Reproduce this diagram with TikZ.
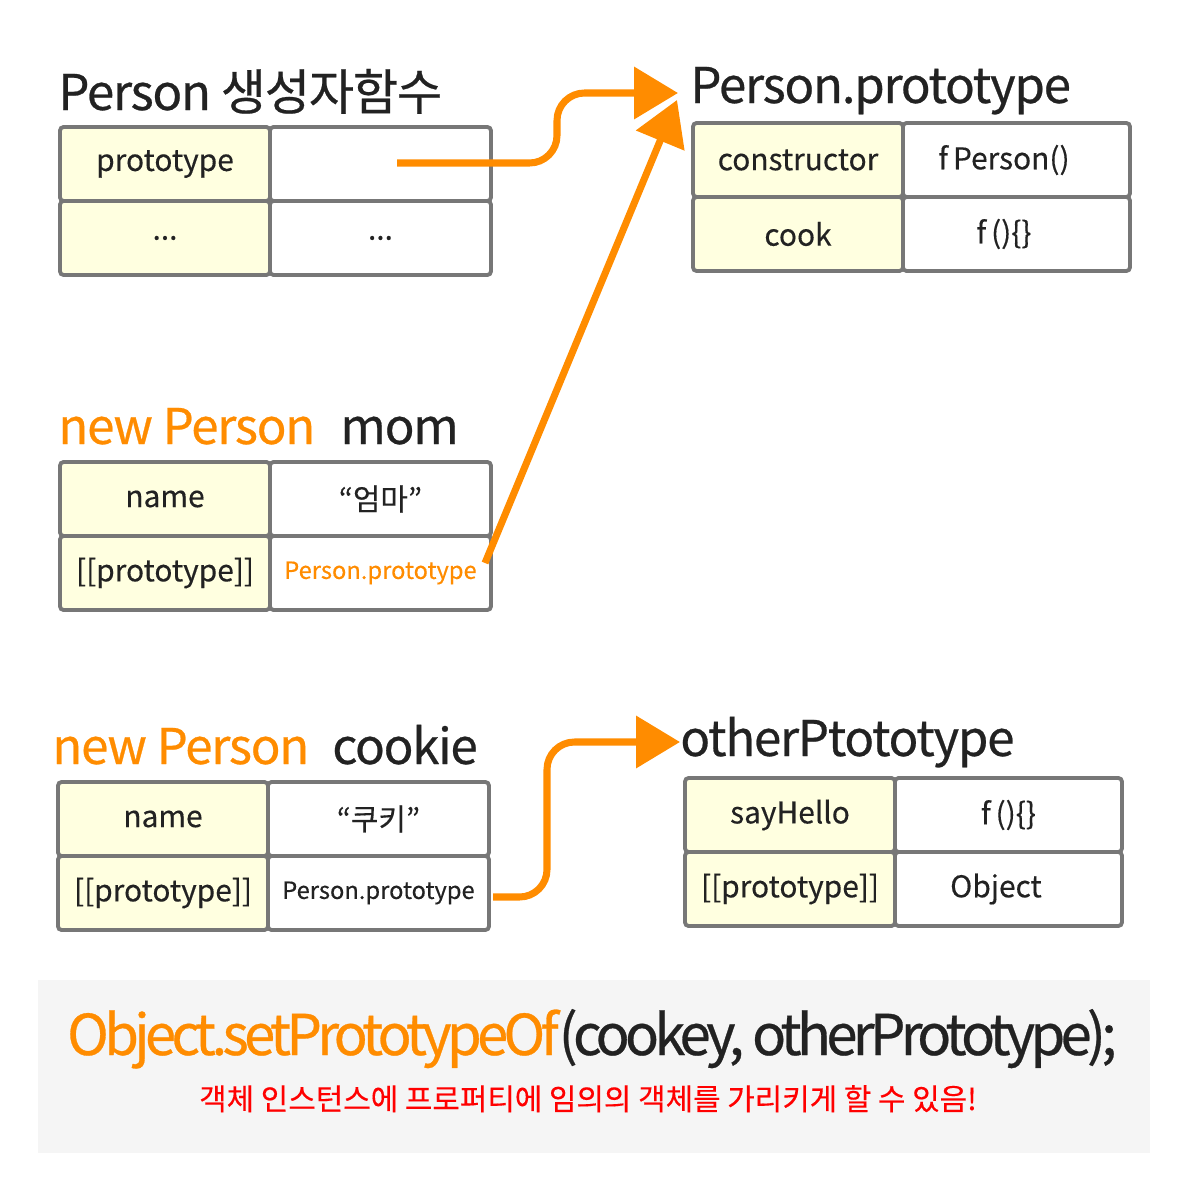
\documentclass[tikz,border=0pt]{standalone}
\usepackage{fontspec}
\setmainfont{Noto Sans CJK KR}[FakeBold=0.3]
\newfontfamily\ttlfont{Noto Sans CJK KR}[LetterSpace=-2.5, FakeBold=0.5]
\newfontfamily\codefont{Noto Sans CJK KR}[LetterSpace=-8.4, FakeBold=0.5]
\usepackage{xcolor}
\usetikzlibrary{arrows.meta,positioning}
\definecolor{cellline}{HTML}{777777}
\definecolor{keyfill}{HTML}{FFFFE0}
\definecolor{arrorange}{HTML}{FF8C00}
\definecolor{inktext}{HTML}{222222}
\definecolor{panelgray}{HTML}{F5F5F5}
\definecolor{notered}{HTML}{FF0000}

\begin{document}
\begin{tikzpicture}[x=0.02cm, y=-0.02cm,
    cell/.style={draw=cellline, line width=2.2pt, rounded corners=2pt, minimum height=1.48cm,
                 outer sep=0pt, inner sep=0pt, text=inktext, font=\fontsize{17}{20}\selectfont},
    keycell/.style={cell, fill=keyfill, minimum width=4.2cm},
    valcell/.style={cell, fill=white, minimum width=4.42cm},
    widecell/.style={valcell, minimum width=4.54cm},
    leftcell/.style={widecell, text width=4.54cm, align=center},
    smalltxt/.style={font=\fontsize{13.5}{16}\selectfont},
    ttl/.style={anchor=base west, inner sep=0pt, text=inktext, font=\ttlfont\fontsize{28}{32}\selectfont},
    arr/.style={-{Triangle[length=25pt,width=29pt]}, line width=4pt, draw=arrorange,
                rounded corners=0.55cm}]

    \useasboundingbox (0,0) rectangle (1200,1200);

    % === Person constructor ===
    \node[ttl] (ctorT) at (58,110) {Person 생성자함수};
    \node[keycell] (ctorK1) at (165,164) {prototype};
    \node[keycell, below=0pt of ctorK1] (ctorK2) {...};
    \node[valcell, right=0pt of ctorK1] (ctorV1) {};
    \node[valcell, right=0pt of ctorK2] (ctorV2) {...};

    % === Person.prototype ===
    \node[ttl] (protoT) at (690,103) {Person.prototype};
    \node[keycell] (protoK1) at (798,160) {constructor};
    \node[keycell, below=0pt of protoK1] (protoK2) {cook};
    \node[leftcell, right=0pt of protoK1] (protoV1) {f\,Person()\hspace*{0.5cm}};
    \node[leftcell, right=0pt of protoK2] (protoV2) {f\,()\{\}\hspace*{0.5cm}};

    % === mom ===
    \node[ttl, text=arrorange] (momT) at (58,444) {new Person};
    \node[ttl] (momN) at (340,444) {mom};
    \node[keycell] (momK1) at (165,499) {name};
    \node[keycell, below=0pt of momK1] (momK2) {[[prototype]]};
    \node[valcell, right=0pt of momK1] (momV1) {“엄마”};
    \node[valcell, right=0pt of momK2, smalltxt, text=arrorange] (momV2) {Person.prototype};

    % === cookie ===
    \node[ttl, text=arrorange] (ckT) at (52,764) {new Person};
    \node[ttl] (ckN) at (332,764) {cookie};
    \node[keycell] (ckK1) at (163,819) {name};
    \node[keycell, below=0pt of ckK1] (ckK2) {[[prototype]]};
    \node[valcell, right=0pt of ckK1] (ckV1) {“쿠키”};
    \node[valcell, right=0pt of ckK2, smalltxt] (ckV2) {Person.prototype};

    % === otherPtototype ===
    \node[ttl] (otherT) at (680,756) {otherPtototype};
    \node[keycell] (otherK1) at (790,815) {sayHello};
    \node[keycell, below=0pt of otherK1] (otherK2) {[[prototype]]};
    \node[widecell, right=0pt of otherK1] (otherV1) {f\,()\{\}};
    \node[leftcell, right=0pt of otherK2] (otherV2) {Object\hspace*{0.5cm}};

    % === arrows ===
    \coordinate (ctorOut) at (397,163);
    \coordinate (protoIn) at (678,93);
    \coordinate (momOut)  at (485,563);
    \coordinate (protoIn2) at (677,100);
    \coordinate (ckOut)   at (493,897);
    \coordinate (otherIn) at (680,742);
    \draw[arr] (ctorOut) -| (557,93) -- (protoIn);
    \draw[arr] (momOut) -- (protoIn2);
    \draw[arr] (ckOut) -| (547,742) -- (otherIn);

    % === bottom note ===
    \node[fill=panelgray, minimum width=22.24cm, minimum height=3.46cm, inner sep=0pt] (panel) at (594,1066.5) {};
    \node[anchor=base, inner sep=0pt, text=inktext, font=\codefont\fontsize{32}{36}\selectfont] (code) at (592,1055)
      {\textcolor{arrorange}{Object.setPrototypeOf}(cookey, otherPrototype);};
    \node[anchor=base, inner sep=0pt, text=notered, font=\fontsize{17}{20}\selectfont] (note) at (588,1110)
      {객체 인스턴스에 프로퍼티에 임의의 객체를 가리키게 할 수 있음!};

\end{tikzpicture}
\end{document}
